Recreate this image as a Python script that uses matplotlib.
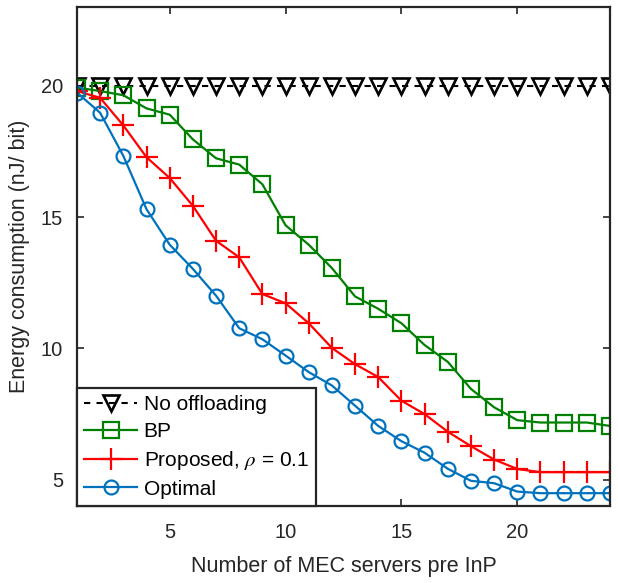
import matplotlib
matplotlib.use("Agg")
import matplotlib.pyplot as plt

plt.rcParams['font.family'] = ['Liberation Sans', 'DejaVu Sans']
plt.rcParams['mathtext.fontset'] = 'stix'

# data
servers = list(range(1, 25))
no_offloading = [20.0] * 24
bp = [19.93, 19.8, 19.64, 19.14, 18.9, 17.96, 17.24, 17.0, 16.25, 14.69,
      13.95, 13.06, 11.98, 11.51, 10.96, 10.13, 9.49, 8.46, 7.76, 7.27,
      7.18, 7.18, 7.18, 7.05]
proposed = [19.8, 19.54, 18.49, 17.28, 16.49, 15.43, 14.1, 13.47, 12.07, 11.72,
            10.96, 10.02, 9.4, 8.91, 8.01, 7.5, 6.83, 6.28, 5.77, 5.41,
            5.29, 5.29, 5.29, 5.29]
optimal = [19.74, 18.97, 17.33, 15.3, 13.95, 13.03, 12.01, 10.77, 10.35, 9.73,
           9.1, 8.59, 7.82, 7.05, 6.47, 6.03, 5.42, 4.96, 4.87, 4.55,
           4.49, 4.49, 4.49, 4.49]
x_ticks = [5, 10, 15, 20]
y_ticks = [5, 10, 15, 20]


def plot_energy(output_file):
    """Draws the energy consumption comparison and saves it."""
    fig = plt.figure(figsize=(6.18, 5.83), dpi=100)
    ax = fig.add_axes([0.1246, 0.132, 0.8624, 0.856])
    ax.plot(servers, no_offloading, color="black", marker="v",
            dashes=(3, 3), markersize=11, markerfacecolor="none",
            markeredgewidth=1.9, linewidth=1.5, label="No offloading")
    ax.plot(servers, bp, "-", color="#008000", marker="s", markersize=12,
            markerfacecolor="none", markeredgewidth=1.6, linewidth=1.6,
            label="BP")
    ax.plot(servers, proposed, "-", color="#ff0000", marker="+",
            markersize=16, markeredgewidth=1.6, linewidth=1.6,
            label=r"Proposed, $\rho$ = 0.1")
    ax.plot(servers, optimal, "-", color="#0072BD", marker="o",
            markersize=10, markerfacecolor="none", markeredgewidth=1.6,
            linewidth=1.6, label="Optimal")

    ax.set_xlim(1, 24)
    ax.set_ylim(4, 23)
    ax.set_xticks(x_ticks)
    ax.set_yticks(y_ticks)
    ax.tick_params(direction="in", top=True, right=True, labelsize=14.5,
                   length=5, width=1.2, colors="#262626")
    ax.tick_params(axis="y", pad=10)
    ax.tick_params(axis="x", pad=12)
    for spine in ax.spines.values():
        spine.set_linewidth(1.6)
        spine.set_color("#262626")
    ax.set_xlabel("Number of MEC servers pre InP", fontsize=15.5,
                  color="#262626", labelpad=10)
    ax.set_ylabel("Energy consumption (nJ/ bit)", fontsize=15.5,
                  color="#262626", labelpad=8)

    leg = ax.legend(loc="lower left", fontsize=15, borderaxespad=0,
                    fancybox=False, framealpha=1, edgecolor="#262626",
                    handlelength=2.55, handletextpad=0.3, labelspacing=0.38,
                    borderpad=0.35)
    leg.get_frame().set_linewidth(1.6)
    fig.savefig(output_file, dpi=100)


plot_energy("out.png")
